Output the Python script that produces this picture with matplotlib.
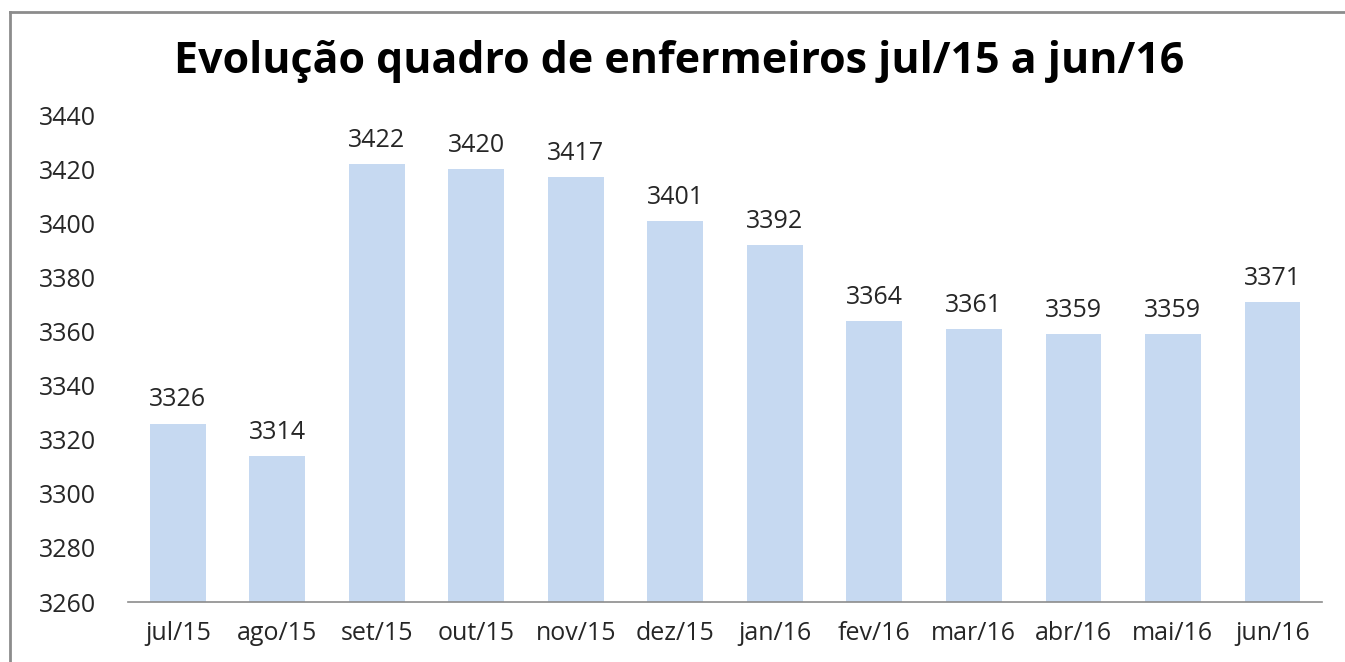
import matplotlib.pyplot as plt
from matplotlib.lines import Line2D

# data
months = ["jul/15", "ago/15", "set/15", "out/15", "nov/15", "dez/15",
          "jan/16", "fev/16", "mar/16", "abr/16", "mai/16", "jun/16"]
nurses = [3326, 3314, 3422, 3420, 3417, 3401, 3392, 3364, 3361, 3359, 3359, 3371]
y_ticks = list(range(3260, 3441, 20))

BAR_COLOR = "#C6D9F1"
TEXT_COLOR = "#262626"

plt.rcParams["font.family"] = ["Open Sans", "DejaVu Sans"]

fig = plt.figure(figsize=(13.45, 6.62), dpi=100)
ax = fig.add_axes([0.0952, 0.0906, 0.8878, 0.7354])

x = range(len(months))
ax.bar(x, nurses, width=0.56, color=BAR_COLOR)

for xi, v in zip(x, nurses):
    ax.annotate(str(v), (xi, v), xytext=(0, 8), textcoords="offset points",
                ha="center", va="bottom", fontsize=18, color=TEXT_COLOR)

ax.set_ylim(3260, 3440)
ax.set_xlim(-0.5, len(months) - 0.5)
ax.set_yticks(y_ticks)
ax.set_xticks(list(x))
ax.set_xticklabels(months)
ax.tick_params(axis="both", length=0, labelsize=18, colors=TEXT_COLOR)
ax.tick_params(axis="y", pad=23)
ax.tick_params(axis="x", pad=14)

for side in ["top", "right", "left"]:
    ax.spines[side].set_visible(False)
ax.spines["bottom"].set_color("#8c8c8c")
ax.spines["bottom"].set_linewidth(1.2)

fig.text(0.505, 0.907, "Evolução quadro de enfermeiros jul/15 a jun/16",
         ha="center", va="center", fontsize=31, fontweight="bold", color="black")

# outer chart frame (cropped on right and bottom)
W, H = 1345, 662
fig.add_artist(Line2D([10 / W, 1.0], [1 - 12 / H, 1 - 12 / H],
                      transform=fig.transFigure, color="#8c8c8c", lw=2))
fig.add_artist(Line2D([10 / W, 10 / W], [1 - 12 / H, 0.0],
                      transform=fig.transFigure, color="#8c8c8c", lw=2))

fig.savefig("out.png", dpi=100)
